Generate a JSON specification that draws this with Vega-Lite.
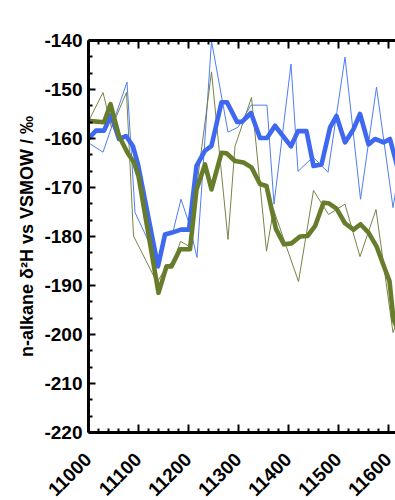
{
  "$schema": "https://vega.github.io/schema/vega-lite/v6.json",
  "width": 307,
  "height": 392,
  "autosize": "none",
  "padding": {"left": 88, "top": 40, "right": 0, "bottom": 68},
  "background": "white",
  "config": {"view": {"stroke": null}, "font": "Liberation Sans", "axis": {"grid": false}},
  "data": {"values": [
    {"s": "s1", "t": 11000, "v": -160.9}, {"s": "s1", "t": 11030, "v": -162.9}, {"s": "s1", "t": 11078, "v": -148.6}, {"s": "s1", "t": 11094, "v": -175.2}, {"s": "s1", "t": 11140, "v": -185.2}, {"s": "s1", "t": 11156, "v": -179.9}, {"s": "s1", "t": 11170, "v": -179.1}, {"s": "s1", "t": 11186, "v": -172.5}, {"s": "s1", "t": 11202, "v": -177.4}, {"s": "s1", "t": 11218, "v": -184.4}, {"s": "s1", "t": 11247, "v": -140.2}, {"s": "s1", "t": 11280, "v": -158.8}, {"s": "s1", "t": 11300, "v": -157.8}, {"s": "s1", "t": 11326, "v": -153.3}, {"s": "s1", "t": 11358, "v": -153.3}, {"s": "s1", "t": 11372, "v": -173.5}, {"s": "s1", "t": 11406, "v": -144.9}, {"s": "s1", "t": 11420, "v": -166.8}, {"s": "s1", "t": 11450, "v": -163.9}, {"s": "s1", "t": 11480, "v": -167.0}, {"s": "s1", "t": 11514, "v": -143.5}, {"s": "s1", "t": 11545, "v": -172.5}, {"s": "s1", "t": 11577, "v": -149.6}, {"s": "s1", "t": 11610, "v": -174.2}, {"s": "s1", "t": 11620, "v": -168.0},
    {"s": "s2", "t": 11000, "v": -156.8}, {"s": "s2", "t": 11030, "v": -150.7}, {"s": "s2", "t": 11047, "v": -157.9}, {"s": "s2", "t": 11077, "v": -150.7}, {"s": "s2", "t": 11091, "v": -180.0}, {"s": "s2", "t": 11138, "v": -189.5}, {"s": "s2", "t": 11156, "v": -186.4}, {"s": "s2", "t": 11172, "v": -185.0}, {"s": "s2", "t": 11185, "v": -181.1}, {"s": "s2", "t": 11202, "v": -182.1}, {"s": "s2", "t": 11247, "v": -146.5}, {"s": "s2", "t": 11280, "v": -180.7}, {"s": "s2", "t": 11294, "v": -161.7}, {"s": "s2", "t": 11327, "v": -151.7}, {"s": "s2", "t": 11357, "v": -183.1}, {"s": "s2", "t": 11371, "v": -174.6}, {"s": "s2", "t": 11421, "v": -189.3}, {"s": "s2", "t": 11451, "v": -170.7}, {"s": "s2", "t": 11481, "v": -175.6}, {"s": "s2", "t": 11514, "v": -173.5}, {"s": "s2", "t": 11544, "v": -184.2}, {"s": "s2", "t": 11576, "v": -174.6}, {"s": "s2", "t": 11610, "v": -199.7}, {"s": "s2", "t": 11620, "v": -197.0},
    {"s": "s3", "t": 11000, "v": -160.2}, {"s": "s3", "t": 11016, "v": -158.5}, {"s": "s3", "t": 11032, "v": -158.5}, {"s": "s3", "t": 11046, "v": -155.3}, {"s": "s3", "t": 11062, "v": -160.2}, {"s": "s3", "t": 11076, "v": -159.6}, {"s": "s3", "t": 11090, "v": -161.7}, {"s": "s3", "t": 11100, "v": -165.4}, {"s": "s3", "t": 11116, "v": -173.7}, {"s": "s3", "t": 11140, "v": -186.2}, {"s": "s3", "t": 11154, "v": -179.7}, {"s": "s3", "t": 11168, "v": -179.3}, {"s": "s3", "t": 11186, "v": -178.7}, {"s": "s3", "t": 11202, "v": -178.7}, {"s": "s3", "t": 11217, "v": -165.7}, {"s": "s3", "t": 11234, "v": -162.6}, {"s": "s3", "t": 11247, "v": -161.6}, {"s": "s3", "t": 11267, "v": -152.7}, {"s": "s3", "t": 11278, "v": -152.7}, {"s": "s3", "t": 11298, "v": -156.7}, {"s": "s3", "t": 11308, "v": -156.7}, {"s": "s3", "t": 11326, "v": -154.9}, {"s": "s3", "t": 11344, "v": -160.0}, {"s": "s3", "t": 11358, "v": -160.0}, {"s": "s3", "t": 11374, "v": -157.5}, {"s": "s3", "t": 11406, "v": -161.7}, {"s": "s3", "t": 11420, "v": -158.6}, {"s": "s3", "t": 11437, "v": -158.6}, {"s": "s3", "t": 11451, "v": -165.7}, {"s": "s3", "t": 11467, "v": -165.4}, {"s": "s3", "t": 11484, "v": -157.9}, {"s": "s3", "t": 11497, "v": -155.5}, {"s": "s3", "t": 11514, "v": -160.9}, {"s": "s3", "t": 11531, "v": -158.2}, {"s": "s3", "t": 11544, "v": -155.1}, {"s": "s3", "t": 11561, "v": -161.3}, {"s": "s3", "t": 11574, "v": -160.2}, {"s": "s3", "t": 11591, "v": -160.9}, {"s": "s3", "t": 11604, "v": -160.2}, {"s": "s3", "t": 11620, "v": -166.4},
    {"s": "s4", "t": 11000, "v": -156.5}, {"s": "s4", "t": 11032, "v": -156.8}, {"s": "s4", "t": 11045, "v": -153.1}, {"s": "s4", "t": 11062, "v": -159.6}, {"s": "s4", "t": 11079, "v": -163.0}, {"s": "s4", "t": 11092, "v": -165.0}, {"s": "s4", "t": 11101, "v": -167.8}, {"s": "s4", "t": 11141, "v": -191.6}, {"s": "s4", "t": 11157, "v": -186.2}, {"s": "s4", "t": 11167, "v": -186.2}, {"s": "s4", "t": 11184, "v": -182.7}, {"s": "s4", "t": 11204, "v": -182.7}, {"s": "s4", "t": 11217, "v": -170.5}, {"s": "s4", "t": 11234, "v": -165.4}, {"s": "s4", "t": 11247, "v": -170.5}, {"s": "s4", "t": 11267, "v": -163.0}, {"s": "s4", "t": 11277, "v": -163.1}, {"s": "s4", "t": 11294, "v": -164.7}, {"s": "s4", "t": 11311, "v": -165.0}, {"s": "s4", "t": 11327, "v": -166.0}, {"s": "s4", "t": 11344, "v": -169.4}, {"s": "s4", "t": 11357, "v": -169.8}, {"s": "s4", "t": 11376, "v": -178.6}, {"s": "s4", "t": 11392, "v": -181.7}, {"s": "s4", "t": 11407, "v": -181.5}, {"s": "s4", "t": 11424, "v": -180.1}, {"s": "s4", "t": 11439, "v": -180.0}, {"s": "s4", "t": 11454, "v": -178.0}, {"s": "s4", "t": 11471, "v": -173.2}, {"s": "s4", "t": 11481, "v": -173.3}, {"s": "s4", "t": 11497, "v": -174.4}, {"s": "s4", "t": 11514, "v": -177.4}, {"s": "s4", "t": 11531, "v": -178.7}, {"s": "s4", "t": 11545, "v": -177.6}, {"s": "s4", "t": 11561, "v": -179.3}, {"s": "s4", "t": 11577, "v": -182.1}, {"s": "s4", "t": 11594, "v": -186.8}, {"s": "s4", "t": 11603, "v": -189.2}, {"s": "s4", "t": 11611, "v": -197.1}, {"s": "s4", "t": 11620, "v": -199.1}
  ]},
  "layer": [
    {
      "mark": {"type": "line", "clip": true, "strokeJoin": "round", "strokeCap": "butt"},
      "encoding": {
        "x": {"field": "t", "type": "quantitative", "scale": {"domain": [11000, 11614], "nice": false, "zero": false},
          "axis": {"orient": "bottom", "values": [11000, 11100, 11200, 11300, 11400, 11500, 11600], "tickSize": -8, "tickWidth": 2, "tickColor": "black", "domainColor": "black", "domainWidth": 3, "labelFont": "Liberation Sans", "labelFontWeight": "bold", "labelFontSize": 19, "labelColor": "black", "labelAngle": -45, "labelAlign": "right", "labelBaseline": "middle", "labelPadding": 32, "labelDx": -3, "labelExpr": "'' + datum.value", "labelOverlap": false, "labelFlush": false, "title": null, "zindex": 1}},
        "y": {"field": "v", "type": "quantitative", "scale": {"domain": [-220, -140], "nice": false, "zero": false},
          "axis": {"orient": "left", "values": [-220, -210, -200, -190, -180, -170, -160, -150, -140], "tickSize": -7, "tickWidth": 2, "tickColor": "black", "domainColor": "black", "domainWidth": 3, "labelFont": "Liberation Sans", "labelFontWeight": "bold", "labelFontSize": 19, "labelColor": "black", "labelPadding": 13, "labelExpr": "'' + datum.value", "labelOverlap": false, "labelFlush": false, "title": "n-alkane δ²H vs VSMOW / ‰", "titleFont": "Liberation Sans", "titleFontWeight": "bold", "titleFontSize": 18, "titleColor": "black", "titleX": -52, "titleY": 196, "titleAngle": -90, "titleAlign": "center", "titleBaseline": "bottom", "zindex": 1}},
        "color": {"field": "s", "type": "nominal", "legend": null, "scale": {"domain": ["s1", "s2", "s3", "s4"], "range": ["#4f7df5", "#77834a", "#3d68ef", "#687d2c"]}},
        "strokeWidth": {"condition": {"test": "datum.s === 's3' || datum.s === 's4'", "value": 4.6}, "value": 1}
      }
    },
    {
      "mark": {"type": "point", "opacity": 0, "clip": true},
      "encoding": {
        "x": {"field": "t", "type": "quantitative", "axis": {"orient": "bottom", "values": [11020, 11040, 11060, 11080, 11120, 11140, 11160, 11180, 11220, 11240, 11260, 11280, 11320, 11340, 11360, 11380, 11420, 11440, 11460, 11480, 11520, 11540, 11560, 11580], "tickSize": -4, "tickWidth": 2, "tickColor": "black", "domain": false, "labels": false, "title": null, "zindex": 1}},
        "y": {"field": "v", "type": "quantitative", "axis": {"orient": "left", "values": [-216.667, -213.333, -206.667, -203.333, -196.667, -193.333, -186.667, -183.333, -176.667, -173.333, -166.667, -163.333, -156.667, -153.333, -146.667, -143.333], "tickSize": -4, "tickWidth": 2, "tickColor": "black", "domain": false, "labels": false, "title": null, "zindex": 1}}
      }
    },
    {
      "mark": {"type": "point", "opacity": 0, "clip": true},
      "encoding": {
        "x": {"field": "t", "type": "quantitative", "axis": {"orient": "top", "values": [11000, 11100, 11200, 11300, 11400, 11500, 11600], "tickSize": -8, "tickWidth": 2, "tickColor": "black", "domainColor": "black", "domainWidth": 3, "labels": false, "title": null, "zindex": 1}},
        "y": {"field": "v", "type": "quantitative", "axis": null}
      }
    },
    {
      "mark": {"type": "point", "opacity": 0, "clip": true},
      "encoding": {
        "x": {"field": "t", "type": "quantitative", "axis": {"orient": "top", "values": [11020, 11040, 11060, 11080, 11120, 11140, 11160, 11180, 11220, 11240, 11260, 11280, 11320, 11340, 11360, 11380, 11420, 11440, 11460, 11480, 11520, 11540, 11560, 11580], "tickSize": -4, "tickWidth": 2, "tickColor": "black", "domain": false, "labels": false, "title": null, "zindex": 1}},
        "y": {"field": "v", "type": "quantitative", "axis": null}
      }
    }
  ],
  "resolve": {"axis": {"x": "independent", "y": "independent"}}
}
